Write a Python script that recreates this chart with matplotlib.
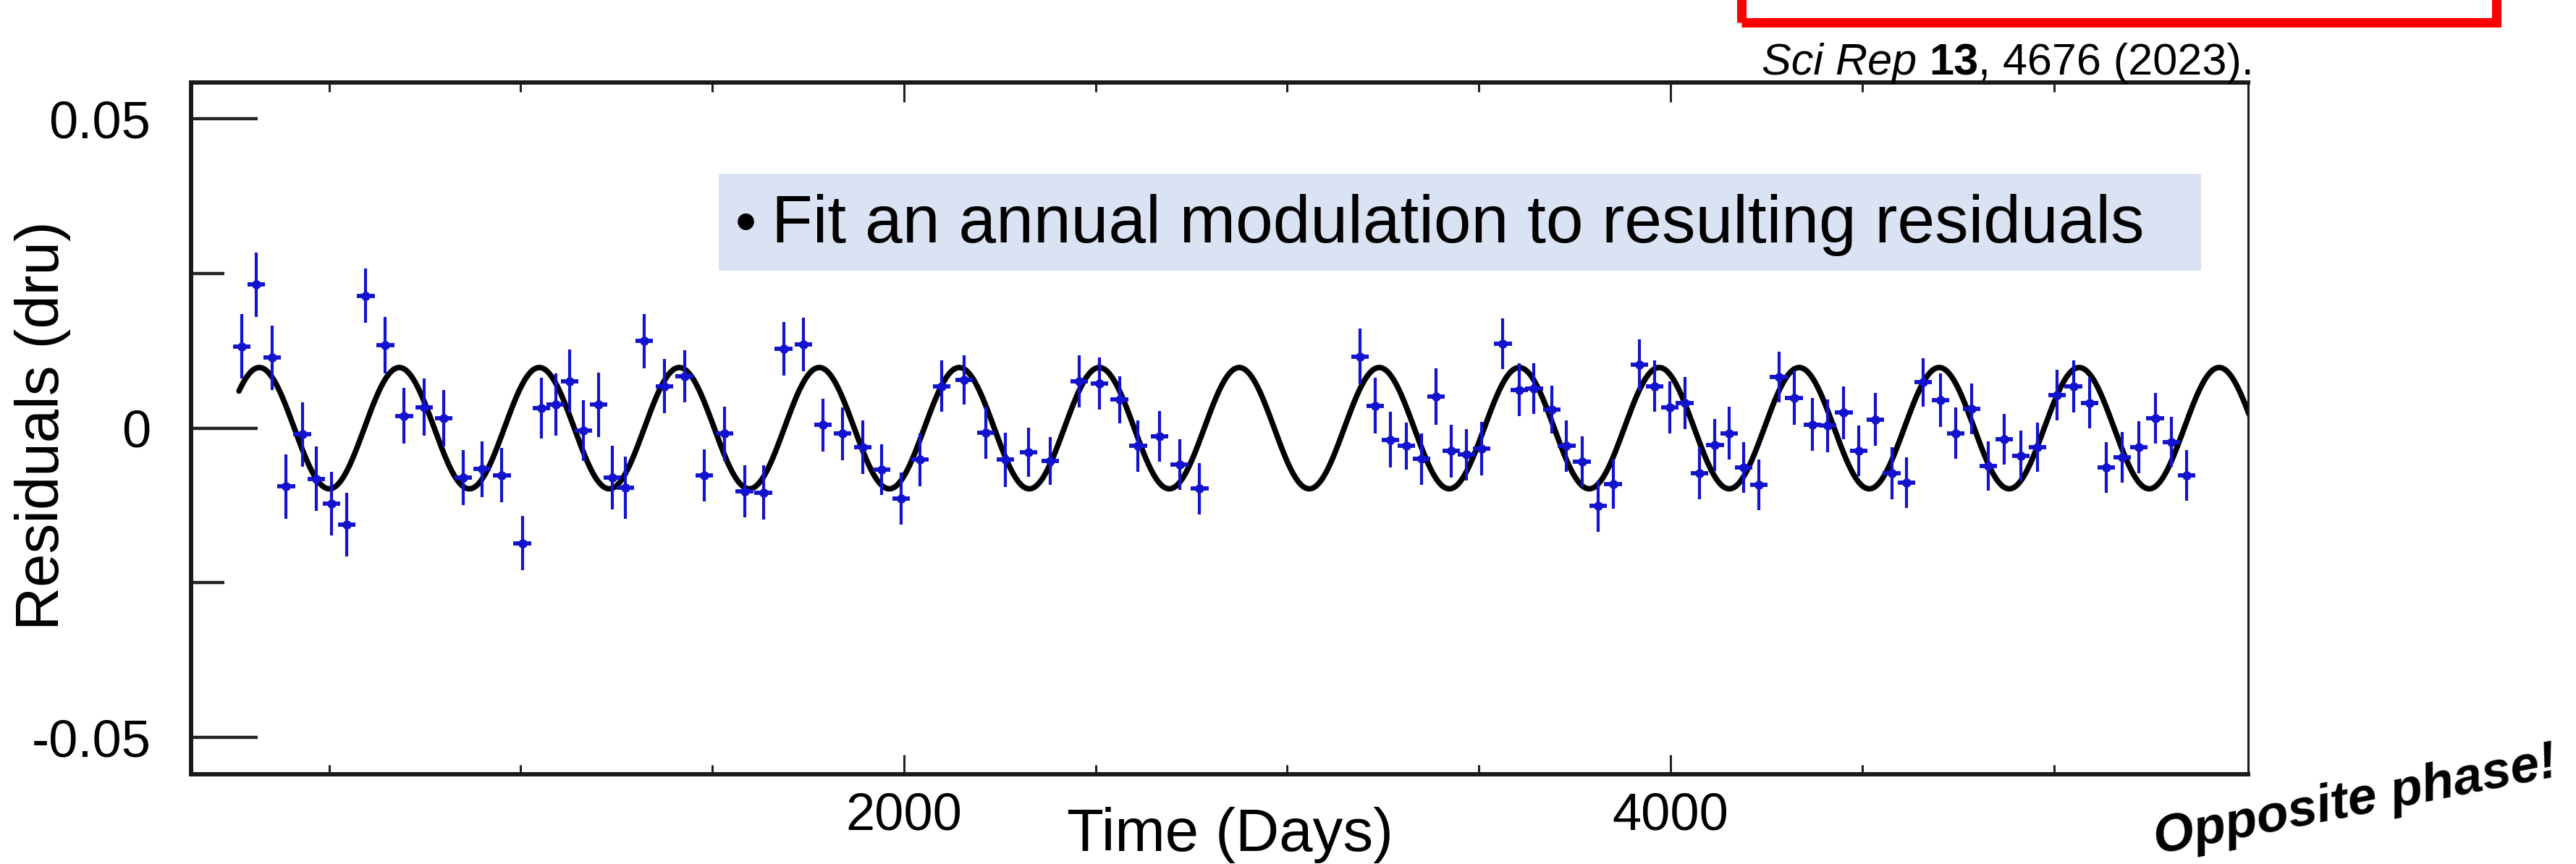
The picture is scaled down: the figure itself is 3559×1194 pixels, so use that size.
import matplotlib
matplotlib.use('Agg')
import matplotlib.pyplot as plt
import numpy as np
from matplotlib.patches import Rectangle

plt.rcParams['font.family'] = ['Liberation Sans', 'DejaVu Sans']
plt.rcParams['axes.unicode_minus'] = False

# ---------------- data ----------------
days = [272.6, 309.9, 351, 388, 430, 467, 506, 545.5, 596, 647, 696, 748.5, 799, 850, 899, 951,
        1004, 1054, 1091, 1128, 1164, 1203, 1239,
        1273, 1322, 1375, 1427, 1479, 1532, 1584, 1633, 1686, 1738, 1789, 1840, 1892, 1941, 1993,
        2042, 2098, 2157, 2213, 2265,
        2325, 2382, 2457, 2509.5, 2562, 2611, 2667, 2719, 2771.5, 3190, 3229.5, 3269,
        3310.5, 3350, 3388, 3428, 3468, 3507, 3562.5, 3605, 3644, 3690, 3729, 3768.7, 3811, 3850,
        3919, 3958, 3998, 4037, 4076, 4116, 4153.5, 4191, 4230, 4282.5, 4322,
        4370, 4410, 4452, 4491.5, 4534, 4577, 4616, 4658.5, 4704, 4743.5, 4786, 4829, 4871, 4914,
        4957, 5009, 5051, 5094, 5136.5, 5179, 5222, 5264.5, 5307, 5346]
residuals = [0.0132, 0.0232, 0.0114, -0.0094, -0.0010, -0.0082, -0.0122, -0.0156, 0.0214, 0.0134,
             0.0020, 0.0034, 0.0016, -0.0080, -0.0066, -0.0076, -0.0186, 0.0032, 0.0038, 0.0076,
             -0.0004, 0.0038, -0.0080,
             -0.0096, 0.0141, 0.0068, 0.0084, -0.0076, -0.0009, -0.0102, -0.0104, 0.0128, 0.0135,
             0.0005, -0.0009, -0.0031, -0.0067, -0.0114, -0.0051, 0.0068, 0.0078, -0.0007, -0.0051,
             -0.0039, -0.0053, 0.0076, 0.0072, 0.0046, -0.0029, -0.0013, -0.0059, -0.0098, 0.0116,
             0.0036, -0.0019,
             -0.0029, -0.0050, 0.0051, -0.0037, -0.0043, -0.0033, 0.0136, 0.0062, 0.0064, 0.0030,
             -0.0029, -0.0054, -0.0126, -0.0090, 0.0102, 0.0068, 0.0034, 0.0041, -0.0073, -0.0027,
             -0.0008, -0.0064, -0.0092, 0.0083, 0.0049,
             0.0006, 0.0004, 0.0025, -0.0037, 0.0014, -0.0073, -0.0088, 0.0074, 0.0045, -0.0008,
             0.0031, -0.0061, -0.0018, -0.0045, -0.0031, 0.0053, 0.0067, 0.0041, -0.0063, -0.0047,
             -0.0031, 0.0016, -0.0022, -0.0076]
errors = [0.0052, 0.0052, 0.0052, 0.0052, 0.0052, 0.0052, 0.0052, 0.0051, 0.0044, 0.0046,
          0.0045, 0.0046, 0.0046, 0.0044, 0.0045, 0.0044, 0.0044, 0.0049, 0.0050, 0.0051,
          0.0049, 0.0052, 0.0051,
          0.0050, 0.0044, 0.0044, 0.0042, 0.0042, 0.0044, 0.0042, 0.0044, 0.0043, 0.0043,
          0.0043, 0.0043, 0.0043, 0.0041, 0.0042, 0.0043, 0.0041, 0.0040, 0.0042, 0.0044,
          0.0040, 0.0039, 0.0042, 0.0042, 0.0038, 0.0041, 0.0041, 0.0041, 0.0041, 0.0045,
          0.0045, 0.0045,
          0.0038, 0.0042, 0.0046, 0.0043, 0.0042, 0.0043, 0.0041, 0.0043, 0.0041, 0.0039,
          0.0041, 0.0041, 0.0041, 0.0040, 0.0042, 0.0042, 0.0042, 0.0042, 0.0042, 0.0042,
          0.0043, 0.0041, 0.0041, 0.0041, 0.0044,
          0.0043, 0.0043, 0.0043, 0.0041, 0.0043, 0.0042, 0.0041, 0.0039, 0.0043, 0.0042,
          0.0041, 0.0040, 0.0041, 0.0041, 0.0040, 0.0041, 0.0042, 0.0041, 0.0041, 0.0041,
          0.0042, 0.0041, 0.0040, 0.0041]
bin_half_width = 23  # days

# fitted annual modulation parameters
fit_amplitude = 0.0098
fit_period = 365.25
fit_peak_day = 318
fit_start, fit_end = 265, 5520

ytick_values = [-0.05, 0, 0.05]
ytick_labels = ['-0.05', '0', '0.05']
yminor_values = [-0.025, 0.025]
xtick_values = [2000, 4000]
xtick_labels = ['2000', '4000']
xminor_values = [500, 1000, 1500, 2500, 3000, 3500, 4500, 5000]

# ---------------- figure ----------------
W, H = 3559, 1194
DPI = 100
fig = plt.figure(figsize=(W / DPI, H / DPI), dpi=DPI)


def fx(px):
    return px / W


def fy(py):
    return 1 - py / H


L, R, T, B = 264, 3106, 113.7, 1069.7
ax = fig.add_axes([fx(L), fy(B), (R - L) / W, (B - T) / H])

blue = '#1212CF'
t = np.linspace(fit_start, fit_end, 2000)
fit_curve = fit_amplitude * np.cos(2 * np.pi * (t - fit_peak_day) / fit_period)
ax.plot(t, fit_curve, color='black', lw=5.5, zorder=2, solid_capstyle='round')

ax.errorbar(days, residuals, yerr=errors, fmt='none', ecolor=blue, elinewidth=3.0,
            capsize=0, zorder=3)
ax.errorbar(days, residuals, xerr=bin_half_width, fmt='none', ecolor=blue, elinewidth=4.2,
            capsize=0, zorder=3)
ax.plot(days, residuals, 'o', ms=8, color=blue, zorder=4)

ax.set_xlim(140, 5507)
ax.set_ylim(-0.0559, 0.0559)

ax.set_yticks(ytick_values)
ax.set_yticklabels(ytick_labels)
ax.set_yticks(yminor_values, minor=True)
ax.set_xticks(xtick_values)
ax.set_xticklabels(xtick_labels)
ax.set_xticks(xminor_values, minor=True)

ax.tick_params(axis='y', which='major', direction='in', length=66, width=3.2, pad=40,
               labelsize=52, left=True, right=False, color='#222222')
ax.tick_params(axis='y', which='minor', direction='in', length=33, width=3.2,
               left=True, right=False, color='#222222')
ax.tick_params(axis='x', which='major', direction='in', length=19.5, width=2.2, pad=18,
               labelsize=52, top=True, bottom=True, color='#222222')
ax.tick_params(axis='x', which='minor', direction='in', length=9.5, width=2.2,
               top=True, bottom=True, color='#222222')

for side in ['left', 'top', 'bottom']:
    ax.spines[side].set_linewidth(4.3)
    ax.spines[side].set_color('#1a1a1a')
ax.spines['right'].set_linewidth(2.2)
ax.spines['right'].set_color('#1a1a1a')

# axis labels
fig.text(fx(1699), fy(1176), 'Time (Days)', ha='center', va='baseline', fontsize=60)
fig.text(fx(59), fy(588), 'Residuals (dru)', ha='center', va='center', rotation=90,
         fontsize=60)

# highlighted bullet box
box = Rectangle((fx(993), fy(374)), (3041 - 993) / W, (374 - 240) / H,
                transform=fig.transFigure, facecolor='#DAE3F3', edgecolor='none', zorder=5)
fig.add_artist(box)
fig.text(fx(1016), fy(334.5), '\u2022', ha='left', va='baseline', fontsize=60, zorder=6)
fig.text(fx(1066), fy(334.5), 'Fit an annual modulation to resulting residuals',
         ha='left', va='baseline', fontsize=67, zorder=6)

# red frame at top right (part of an upper figure)
red = Rectangle((fx(2405.5), fy(31)), (3448.5 - 2405.5) / W, 120 / H,
                transform=fig.transFigure, facecolor='none', edgecolor='#FF0000',
                lw=9.4, zorder=6)
fig.add_artist(red)

# citation
renderer = fig.canvas.get_renderer()
x = 2434.0
base = fy(103)
pieces = [('Sci Rep', dict(style='italic'), True), ('13', dict(weight='bold'), False),
          (', 4676 (2023).', {}, False)]
fs = 44
space_px = 0.278 * fs / 0.72
for s, kw, trailing_space in pieces:
    tx = fig.text(fx(x), base, s, ha='left', va='baseline', fontsize=fs, zorder=7, **kw)
    bb = tx.get_window_extent(renderer)
    x += bb.width + (space_px if trailing_space else 0)

# rotated remark
fig.text(fx(2980), fy(1180), 'Opposite phase!', rotation=11, rotation_mode='anchor',
         ha='left', va='baseline', fontsize=52, fontweight='bold', style='italic')

fig.savefig('out.png', dpi=DPI)
